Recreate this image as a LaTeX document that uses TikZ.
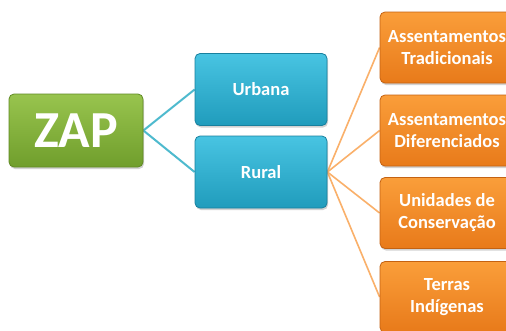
\documentclass[tikz,border=0pt]{standalone}
\usepackage{fontspec}
\setmainfont{Carlito}
\usetikzlibrary{shadows,backgrounds}
\definecolor{gTop}{RGB}{152,196,78}
\definecolor{gBot}{RGB}{112,158,44}
\definecolor{gEdge}{RGB}{96,138,36}
\definecolor{bTop}{RGB}{72,196,226}
\definecolor{bBot}{RGB}{32,156,188}
\definecolor{bEdge}{RGB}{24,128,158}
\definecolor{oTop}{RGB}{250,158,58}
\definecolor{oBot}{RGB}{232,122,26}
\definecolor{oEdge}{RGB}{196,98,18}
\definecolor{bLine}{RGB}{78,186,206}
\definecolor{oLine}{RGB}{250,176,106}
\tikzset{
  boxbase/.style={rectangle, rounded corners=5pt, line width=0.8pt, align=center,
    text=white, font=\bfseries\fontsize{18.5}{22}\selectfont,
    drop shadow={opacity=0.35, shadow xshift=1pt, shadow yshift=-2pt}},
  zapbox/.style={boxbase, draw=gEdge, top color=gTop, bottom color=gBot,
    minimum width=134pt, minimum height=73pt, font=\bfseries\fontsize{52}{56}\selectfont},
  bluebox/.style={boxbase, draw=bEdge, top color=bTop, bottom color=bBot,
    minimum width=132pt, minimum height=72pt},
  orangebox/.style={boxbase, draw=oEdge, top color=oTop, bottom color=oBot,
    minimum width=134pt, minimum height=71pt, inner sep=1pt},
  blink/.style={draw=bLine, line width=2pt},
  olink/.style={draw=oLine, line width=1.6pt}
}
\begin{document}
\begin{tikzpicture}[x=1pt,y=-1pt]
\useasboundingbox (0,0) rectangle (506,330);
\clip (0,0) rectangle (506,330);
\node[zapbox] (zap) at (76,130.5) {ZAP};
\node[bluebox] (urb) at (261,89.5) {Urbana};
\node[bluebox] (rur) at (261,172) {Rural};
\node[orangebox] (o1) at (447,47.5) {Assentamentos\\Tradicionais};
\node[orangebox] (o2) at (447,130.5) {Assentamentos\\Diferenciados};
\node[orangebox] (o3) at (447,213) {Unidades de\\Conservação};
\node[orangebox] (o4) at (447,297) {Terras\\Indígenas};
\begin{pgfonlayer}{background}
\fill[white] (0,0) rectangle (506,330);
\draw[blink] (zap.east) -- (urb.west);
\draw[blink] (zap.east) -- (rur.west);
\draw[olink] (rur.east) -- (o1.west);
\draw[olink] (rur.east) -- (o2.west);
\draw[olink] (rur.east) -- (o3.west);
\draw[olink] (rur.east) -- (o4.west);
\end{pgfonlayer}
\end{tikzpicture}
\end{document}
